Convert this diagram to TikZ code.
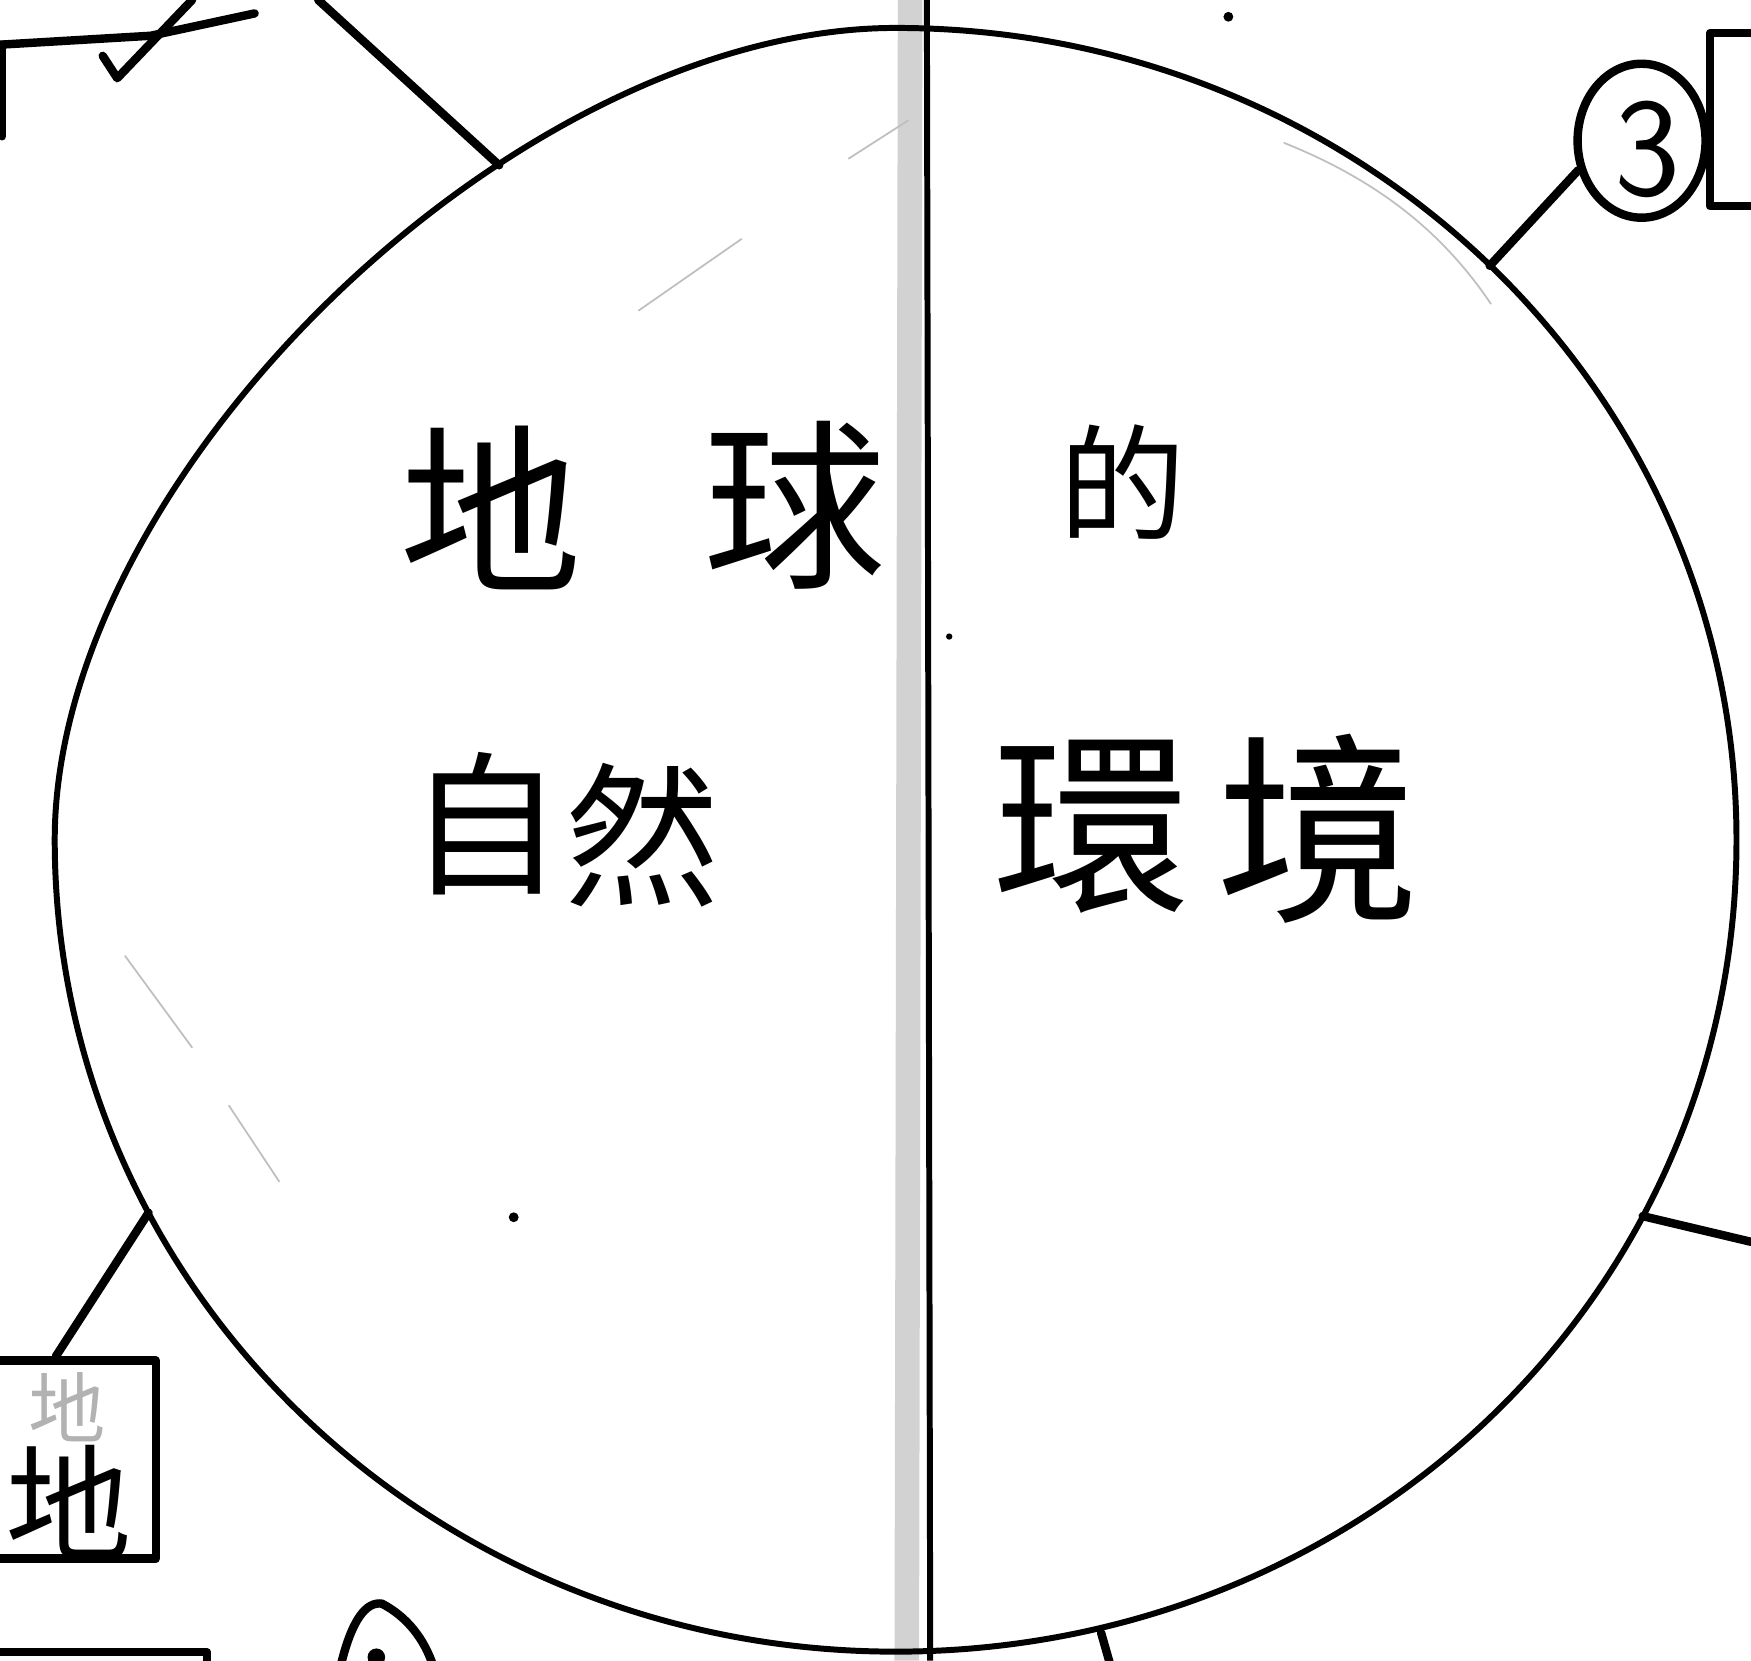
\documentclass[tikz,border=0pt]{standalone}
\usepackage{fontspec}
\newfontfamily\cjk{Noto Sans CJK TC}
\usetikzlibrary{positioning,shapes.geometric}

\tikzset{
  pen/.style={line width=1.7pt, line cap=round, line join=round},
  thickpen/.style={line width=2.4pt, line cap=round, line join=round},
  pencil/.style={gray!50, line width=0.5pt, line cap=round},
  hanzi/.style={font=\cjk\fontsize{#1}{#1}\selectfont, inner sep=0pt},
  tag/.style={draw, thickpen, inner sep=0pt}
}

\begin{document}
\begin{tikzpicture}[x=0.011167cm,y=-0.011167cm]
  \useasboundingbox (0,0) rectangle (1568,1487);
  % fold of the paper
  \draw[gray!35, line width=7pt] (815,0) -- (812,1487);
  % the globe
  \draw[pen] (1555,752) .. controls (1555,1160) and (1220,1479) .. (802,1479)
    .. controls (386,1479) and (49,1154) .. (49,752)
    .. controls (49,425) and (463,25) .. (802,25)
    .. controls (1218,25) and (1555,350) .. (1555,752) -- cycle;
  \coordinate (nw) at (447,148);
  \coordinate (ne) at (1334,238);
  \coordinate (ea) at (1471,1089);
  \coordinate (sw) at (133,1086);
  \coordinate (so) at (986,1462);
  % the line down the middle
  \coordinate (top) at (830,0);
  \coordinate (bot) at (833,1487);
  \draw[line width=1.7pt] (top) -- (bot);
  % pencil marks
  \draw[pencil] (760,142) -- (813,108);
  \draw[pencil] (572,278) -- (664,214);
  \draw[pencil] (112,856) -- (172,938) (205,990) -- (250,1058);
  \draw[pencil] (1150,128) .. controls (1230,160) and (1290,205) .. (1335,272);
  \fill (1100,15) circle (1.4pt);
  \fill (850,570) circle (0.9pt);
  \fill (460,1090) circle (1.4pt);

  % title
  \node[hanzi=52] (di)  at (440,455) {地};
  \node[hanzi=52] (qiu) at (712,452) {球};
  \node[hanzi=36] (de)  at (1005,432) {的};
  \node[hanzi=44] (zi)  at (435,738) {自};
  \node[hanzi=44] (ran) at (575,748) {然};
  \node[hanzi=56] (huan) at (978,740) {環};
  \node[hanzi=58] (jing) at (1181,742) {境};

  % branches
  \coordinate (tl) at (285,0);
  \coordinate (rt) at (1568,1112);
  \node[tag, ellipse, minimum width=1.28cm, minimum height=1.54cm] (three) at (1470,126) {};
  \node[font=\sffamily\fontsize{40}{40}\selectfont] (num3) at (1475,134) {3};
  \node[tag, rectangle, minimum width=1.56cm, minimum height=1.73cm] (box3) at (1601,107) {};
  \node[tag, rectangle, minimum width=2.0cm, minimum height=1.98cm] (box1) at (50,1307) {};
  \node[hanzi=22, text=gray!60] (di0) at (60,1260) {地};
  \node[hanzi=36] (di1) at (62,1345) {地};
  \node[tag, rectangle, minimum width=2.8cm, minimum height=1.6cm] (box2) at (60,1551) {};
  \path (nw) edge[thickpen] (tl)
        (ne) edge[thickpen] (three.205)
        (ea) edge[thickpen] (rt)
        (sw) edge[thickpen] (box1.north)
        (so) edge[thickpen] ++(10,35);

  % top left corner
  \draw[thickpen] (0,40) -- (135,32) -- (228,12);
  \draw[thickpen] (92,50) -- (105,70) -- (172,0);
  \draw[thickpen] (2,40) -- (2,122);
  % circled number cut at the bottom
  \draw[thickpen] (305,1492) .. controls (315,1450) and (328,1434) .. (342,1436)
    .. controls (365,1448) and (380,1468) .. (388,1492);
  \fill (337,1484) circle (2.5pt);
\end{tikzpicture}
\end{document}
